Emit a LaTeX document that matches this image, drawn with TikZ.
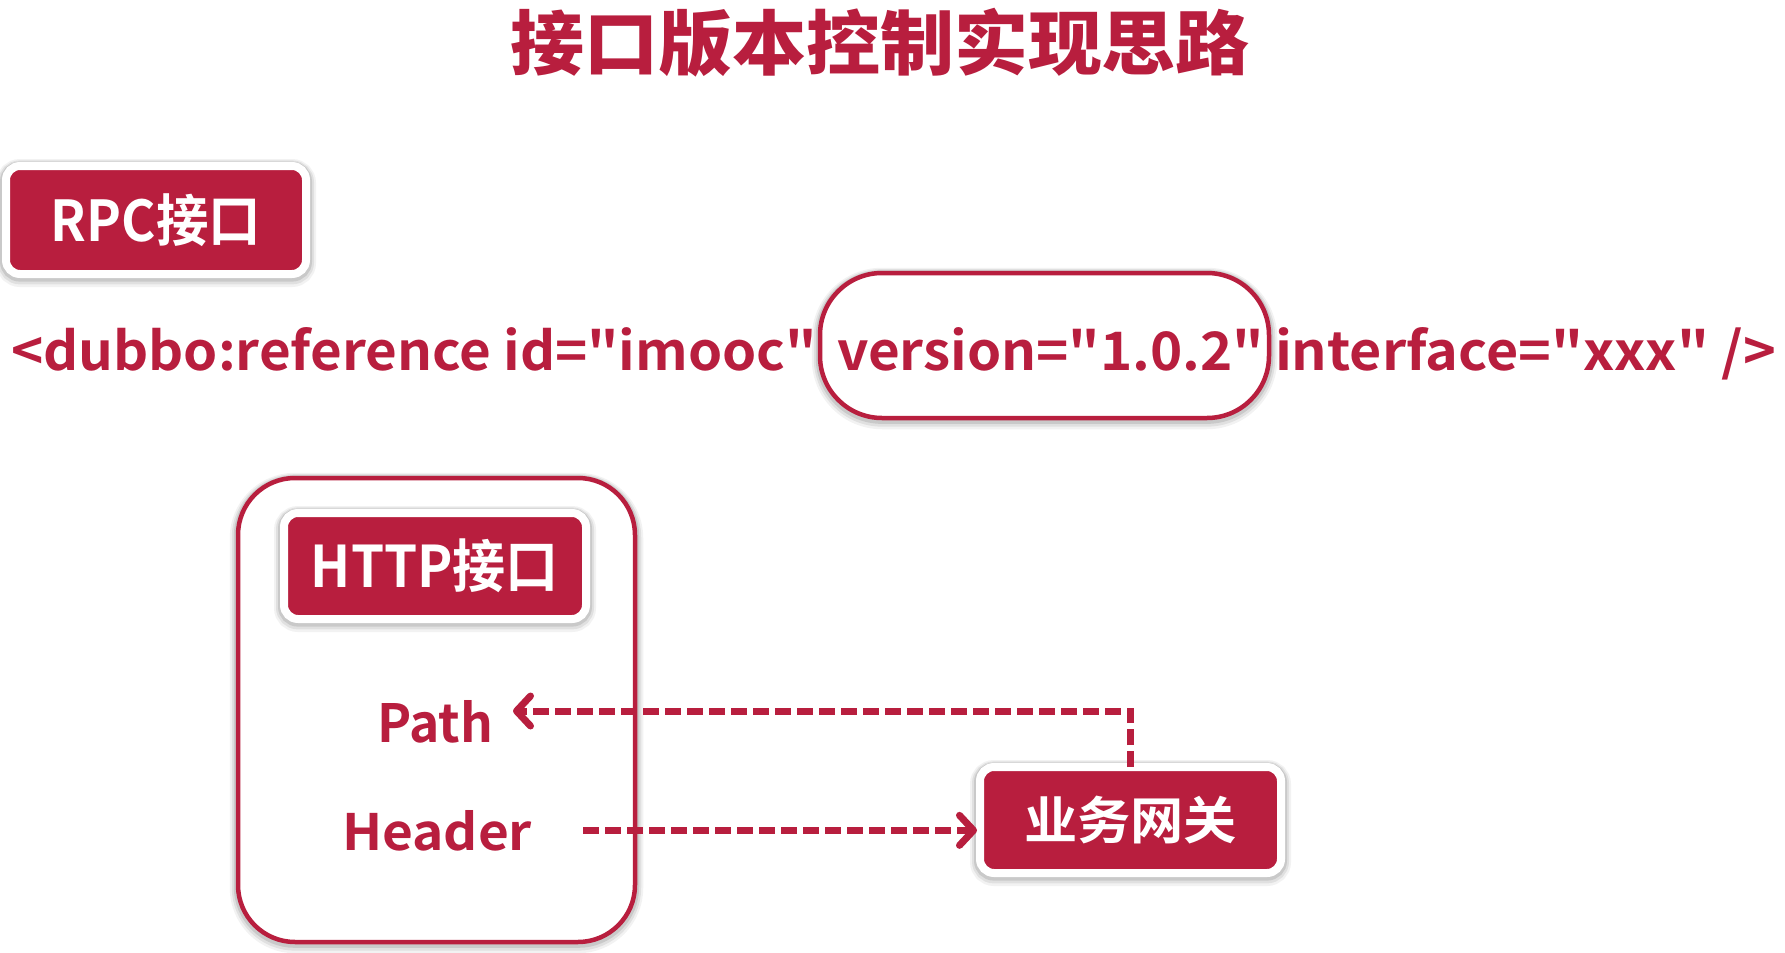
\documentclass[tikz,border=0pt]{standalone}
\usepackage{fontspec}
\usetikzlibrary{arrows.meta,calc}
\newfontfamily\cjk{Noto Sans CJK SC Bold}
\newfontfamily\cjkheavy{Noto Sans CJK SC Black}
\definecolor{crimson}{RGB}{184,30,62}
\newlength\pxu
\setlength\pxu{0.5pt}
% fit a text into a box of given width and total height (in px units)
\newcommand\fitbox[3]{\resizebox*{#1\pxu}{#2\pxu}{#3}}
% fit a text into a given width and height above the baseline
\newcommand\fitbase[3]{\resizebox{#1\pxu}{#2\pxu}{#3}}
\begin{document}
\begin{tikzpicture}[x=0.5pt,y=-0.5pt,
  every node/.style={inner sep=0pt, outer sep=0pt},
  % soft shadow built from a few wide, faint strokes under the shape
  softshadow/.style={
    preaction={draw=black, draw opacity=0.05, line width=#1+12\pxu, transform canvas={yshift=-1.5pt}},
    preaction={draw=black, draw opacity=0.07, line width=#1+8\pxu, transform canvas={yshift=-1.2pt}},
    preaction={draw=black, draw opacity=0.10, line width=#1+4\pxu, transform canvas={yshift=-0.8pt}}},
  redbox/.style={rectangle, rounded corners=14\pxu, fill=crimson, draw=white,
    line width=8\pxu, text=white, font=\cjk, softshadow=8\pxu},
  outlinebox/.style={rectangle, fill=white, draw=crimson, line width=4.5\pxu,
    softshadow=4.5\pxu},
  redtext/.style={text=crimson, font=\cjk},
  dasharrow/.style={draw=crimson, line width=7\pxu, dash pattern=on 16\pxu off 6\pxu,
    -{Straight Barb[length=7pt 0, width=15pt 0, line cap=round, line join=round]}}
]
\useasboundingbox (0,0) rectangle (1785,953);
\fill[white] (0,0) rectangle (1785,953);

% heading
\node[text=crimson, font=\cjkheavy] (title) at (880,42.5) {\fitbox{740}{69}{接口版本控制实现思路}};

% RPC block and reference line
\node[redbox, minimum width=300\pxu, minimum height=108\pxu] (rpc) at (156,220) {\fitbox{210}{53}{RPC接口}};

\node[outlinebox, rounded corners=62\pxu, minimum width=449\pxu, minimum height=145\pxu] (pill) at (1044.5,345.5) {};
\node[redtext, anchor=base west] (refl) at (11,370) {\fitbase{806}{43}{<dubbo:reference id="imooc"}};
\node[redtext, anchor=base west] (ver) at (837,370) {\fitbase{427}{43}{version="1.0.2"}};
\node[redtext, anchor=base west] (refr) at (1275,370) {\fitbase{501}{43}{interface="xxx" />}};

% HTTP block
\node[outlinebox, rounded corners=57\pxu, minimum width=397\pxu, minimum height=464\pxu] (http) at (436.5,710) {};
\node[redbox, minimum width=302\pxu, minimum height=106\pxu] (httplabel) at (435,566) {\fitbox{248}{54}{HTTP接口}};
\node[redtext, anchor=base west] (path) at (377,742) {\fitbase{116}{42}{Path}};
\node[redtext, anchor=base west] (header) at (342,850) {\fitbase{190}{40}{Header}};

% gateway
\node[redbox, minimum width=301\pxu, minimum height=106\pxu] (gw) at (1130.5,820) {\fitbox{213}{48}{业务网关}};

% connectors
\coordinate (turn) at (gw.north |- 0,711);
\draw[dasharrow] (gw.north) -- (turn) -- ($(path.east |- turn)+(20,0)$);
\coordinate (hstart) at ($(header.east)+(51,0)$);
\draw[dasharrow] (hstart) -- ($(gw.west |- hstart)+(-3,0)$);
\end{tikzpicture}
\end{document}
